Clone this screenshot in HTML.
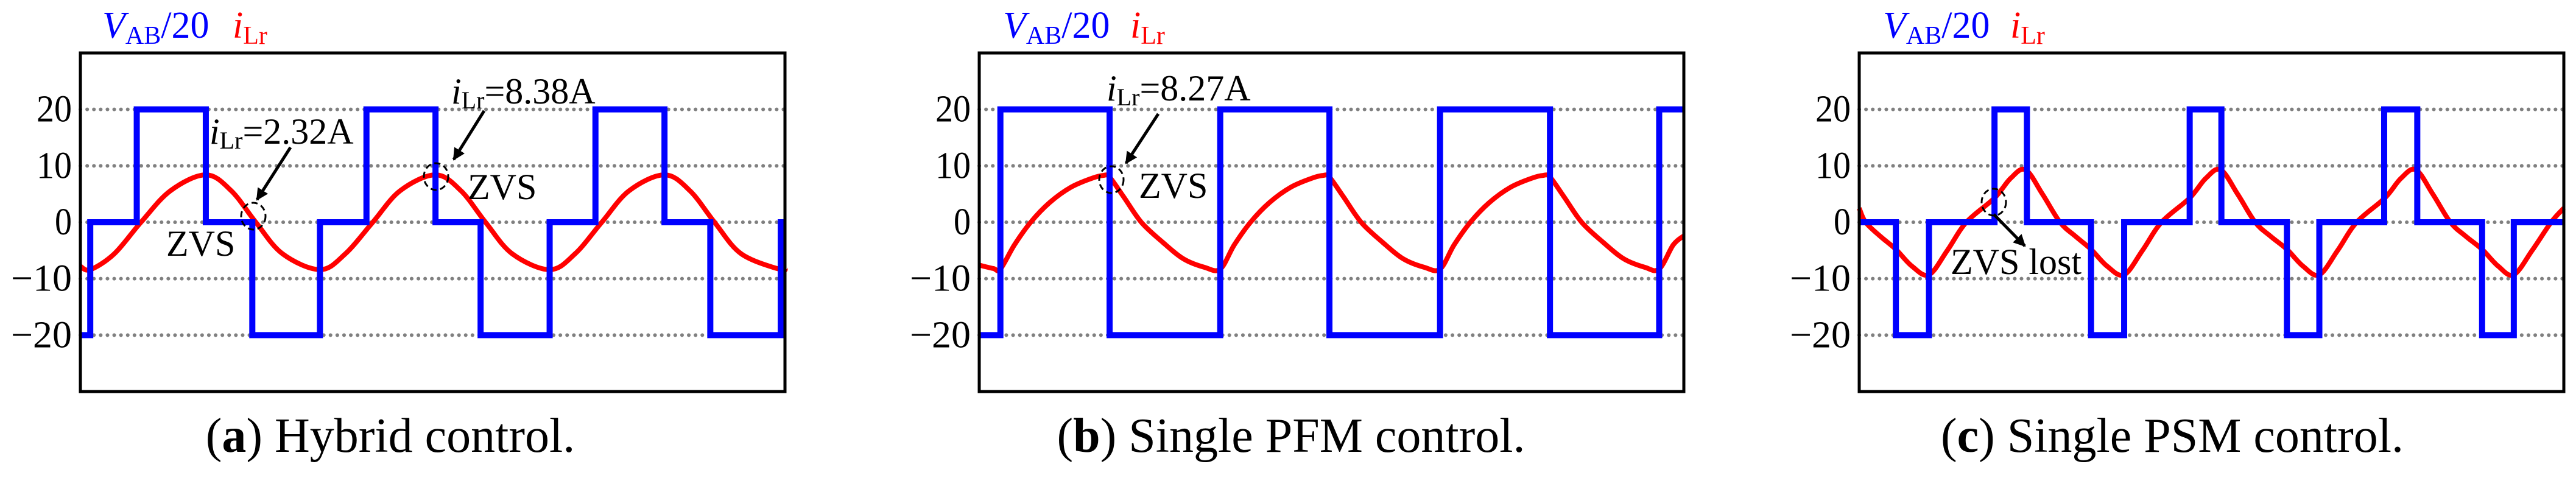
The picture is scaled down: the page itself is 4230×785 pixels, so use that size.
<!DOCTYPE html>
<html><head><meta charset="utf-8"><style>
html,body{margin:0;padding:0;background:#fff;}
svg{display:block;}
svg text{font-family:"Liberation Serif","Times New Roman",serif;}
</style></head><body>
<svg id="fig" width="4230" height="785" viewBox="0 0 4230 785" xmlns="http://www.w3.org/2000/svg" font-family="Liberation Serif, serif"></svg>
<script>
// y ticks (shared)
const yTicks = [20, 10, 0, -10, -20];
const yTickLabels = ["20", "10", "0", "\u221210", "\u221220"];
// Panel (a) hybrid control: V_AB/20 step transitions (time in % of window) and levels
const vA_t = [0, 1.4, 8.0, 17.8, 24.4, 34.0, 40.6, 50.4, 56.8, 66.6, 73.1, 82.9, 89.4, 99.4, 100];
const vA_v = [-20, 0, 20, 0, -20, 0, 20, 0, -20, 0, 20, 0, -20, 0, 0];
const iA_t = [0, 1.4, 4.8, 8.6, 12.8, 17.8, 21.4, 24.9, 28.7, 34.0, 37.6, 41.5, 45.4, 50.4, 54, 57.5, 61.3, 66.6, 70.2, 74, 77.9, 82.9, 86.5, 90, 93.8, 99.4, 100];
const iA_v = [-7.8, -8.4, -5.6, 0, 5.6, 8.4, 5.6, 0, -5.6, -8.4, -5.6, 0, 5.6, 8.4, 5.6, 0, -5.6, -8.4, -5.6, 0, 5.6, 8.4, 5.6, 0, -5.6, -8.4, -8.0];
// Panel (b) single PFM
const vB_t = [0, 3.0, 18.5, 34.2, 49.7, 65.4, 81.0, 96.5, 100];
const vB_v = [-20, 20, -20, 20, -20, 20, -20, 20, 20];
const iB_t = [0, 2, 3.0, 5, 7.3, 10, 13, 16, 17.6, 18.5, 20.5, 23.0, 26, 29, 32, 34.2, 36.2, 38.5, 41.2, 44.2, 47.2, 48.8, 49.7, 51.7, 54.2, 57.2, 60.2, 63.2, 65.4, 67.4, 69.7, 72.4, 75.4, 78.4, 80, 81, 83, 85.5, 88.5, 91.5, 94.5, 96.5, 98.5, 100];
const iB_v = [-7.6, -8.2, -8.3, -4, 0, 3.5, 6.2, 7.8, 8.3, 8.0, 4.5, 0, -3.5, -6.5, -8, -8.3, -4, 0, 3.5, 6.2, 7.8, 8.3, 8.0, 4.5, 0, -3.5, -6.5, -8, -8.3, -4, 0, 3.5, 6.2, 7.8, 8.3, 8.0, 4.5, 0, -3.5, -6.5, -8, -8.3, -4, -2.4];
// Panel (c) single PSM
const vC_t = [0, 5.2, 9.9, 19.2, 23.8, 32.9, 37.6, 46.9, 51.4, 60.7, 65.3, 74.5, 79.2, 88.4, 92.9, 100];
const vC_v = [0, -20, 0, 20, 0, -20, 0, 20, 0, -20, 0, 20, 0, -20, 0, 0];
const iC_t = [0, 0.9, 3, 5.2, 7.5, 9.9, 12.5, 15.2, 19.2, 21.5, 23.6, 26, 28.5, 30.7, 32.9, 35.2, 37.6, 40.2, 42.9, 46.9, 49.2, 51.3, 53.7, 56.2, 58.4, 60.7, 63, 65.3, 67.9, 70.6, 74.6, 76.9, 79, 81.4, 83.9, 86.1, 88.4, 90.7, 92.9, 95.5, 98.2, 100];
const iC_v = [2.5, 0, -2.5, -4.8, -7.8, -9.3, -5, 0, 4.3, 7.8, 9.3, 5, 0, -2.5, -4.8, -7.8, -9.3, -5, 0, 4.3, 7.8, 9.3, 5, 0, -2.5, -4.8, -7.8, -9.3, -5, 0, 4.3, 7.8, 9.3, 5, 0, -2.5, -4.8, -7.8, -9.3, -5, 0, 2.5];

const NS = "http://www.w3.org/2000/svg";
const svg = document.getElementById("fig");
function mk(tag, attrs, parent) {
  const e = document.createElementNS(NS, tag);
  for (const k in attrs) e.setAttribute(k, attrs[k]);
  if (tag === "text") e.setAttribute("font-family", "Liberation Serif, serif");
  (parent || svg).appendChild(e);
  return e;
}
const BOX_TOP = 87, BOX_BOT = 643, BOX_W = 1157;
function yScale(v) { return BOX_TOP + (30 - v) / 60 * (BOX_BOT - BOX_TOP); }

function panel(id, x0, vt, vv, it, iv, caption, bold, capX, legX, iX) {
  const g = mk("g", {});
  
  
  const xs = t => x0 + t / 100 * BOX_W;
  yTicks.forEach((t, k) => {
    const gl = mk("line", {x1: x0, x2: x0 + BOX_W, y1: yScale(t), y2: yScale(t), stroke: "#808080", "stroke-width": 6, "stroke-dasharray": "0.1 11", "stroke-linecap": "round"}, g);
    
    
    const lab = yTickLabels[k];
    const tlLen = lab.length === 1 ? 28 : (lab.length === 2 ? 58 : 100);
    const tl = mk("text", {x: x0 - 14, y: yScale(t) + 20, "text-anchor": "end", "font-size": 62, textLength: tlLen, lengthAdjust: "spacingAndGlyphs"}, g);
    tl.textContent = lab;
    
    
  });
  const pts = it.map((t, k) => [xs(t), yScale(iv[k])]);
  let d = "M" + pts[0][0] + "," + pts[0][1];
  for (let k = 0; k < pts.length - 1; k++) {
    const p0 = pts[Math.max(0, k - 1)], p1 = pts[k], p2 = pts[k + 1], p3 = pts[Math.min(pts.length - 1, k + 2)];
    const c1 = [p1[0] + (p2[0] - p0[0]) / 6, p1[1] + (p2[1] - p0[1]) / 6];
    const c2 = [p2[0] - (p3[0] - p1[0]) / 6, p2[1] - (p3[1] - p1[1]) / 6];
    d += " C" + c1 + " " + c2 + " " + p2;
  }
  const cur = mk("path", {d: d, fill: "none", stroke: "#ff0000", "stroke-width": 8}, g);
  
  
  let dv = "M" + xs(vt[0]) + "," + yScale(vv[0]);
  for (let k = 1; k < vt.length; k++) {
    dv += " L" + xs(vt[k]) + "," + yScale(vv[k - 1]) + " L" + xs(vt[k]) + "," + yScale(vv[k]);
  }
  const vol = mk("path", {d: dv, fill: "none", stroke: "#0000ff", "stroke-width": 10, "stroke-linejoin": "miter"}, g);
  
  
  const bx = mk("rect", {x: x0, y: BOX_TOP, width: BOX_W, height: BOX_BOT - BOX_TOP, fill: "none", stroke: "#000", "stroke-width": 5}, g);
  
  
  const lg = mk("text", {x: legX, y: 62, "font-size": 62, fill: "#0000ff"}, g);
  lg.innerHTML = '<tspan font-style="italic">V</tspan><tspan font-size="42" dy="10">AB</tspan><tspan dy="-10">/20</tspan>';
  
  
  const li = mk("text", {x: iX, y: 62, "font-size": 62, fill: "#ff0000"}, g);
  li.innerHTML = '<tspan font-style="italic">i</tspan><tspan font-size="42" dy="10">Lr</tspan>';
  
  
  const cp = mk("text", {x: capX, y: 742, "font-size": 80, "text-anchor": "middle"}, g);
  cp.innerHTML = '(<tspan font-weight="bold">' + bold + '</tspan>) ' + caption;
  
  
  return g;
}
const gA = panel("a", 132, vA_t, vA_v, iA_t, iA_v, "Hybrid control.", "a", 641, 168, 382);
const gB = panel("b", 1608, vB_t, vB_v, iB_t, iB_v, "Single PFM control.", "b", 2120, 1647, 1856);
const gC = panel("c", 3053, vC_t, vC_v, iC_t, iC_v, "Single PSM control.", "c", 3567, 3092, 3301);

const defs = mk("defs", {});
defs.innerHTML = '<marker id="ah" viewBox="0 0 10 10" refX="9" refY="5" markerWidth="4" markerHeight="4" orient="auto"><path d="M0,0 L10,5 L0,10 z" fill="#000"/></marker>';
function annText(x, y, html, name) {
  const t = mk("text", {x: x, y: y, "font-size": 60});
  t.innerHTML = html;
  
  
}
function arrow(x1, y1, x2, y2, name) {
  const a = mk("line", {x1: x1, y1: y1, x2: x2, y2: y2, stroke: "#000", "stroke-width": 5, "marker-end": "url(#ah)"});
  
  
}
function circ(x, y, name) {
  const c = mk("ellipse", {cx: x, cy: y, rx: 20, ry: 22, fill: "none", stroke: "#000", "stroke-width": 3, "stroke-dasharray": "10 6"});
  
  
}
const IL = '<tspan font-style="italic">i</tspan><tspan font-size="40" dy="8">Lr</tspan><tspan dy="-8">';
annText(344, 236, IL + '=2.32A</tspan>', 'annotation-ilr-232');
arrow(477, 242, 422, 328, 'arrow-232');
circ(416, 355, 'zvs-circle-a1');
annText(273, 420, 'ZVS', 'zvs-label-a1');
annText(741, 170, IL + '=8.38A</tspan>', 'annotation-ilr-838');
arrow(795, 182, 745, 262, 'arrow-838');
circ(716, 290, 'zvs-circle-a2');
annText(768, 327, 'ZVS', 'zvs-label-a2');
annText(1817, 165, IL + '=8.27A</tspan>', 'annotation-ilr-827');
arrow(1902, 187, 1849, 268, 'arrow-827');
circ(1825, 295, 'zvs-circle-b');
annText(1870, 325, 'ZVS', 'zvs-label-b');
circ(3274, 332, 'zvs-lost-circle');
arrow(3274, 352, 3325, 404, 'arrow-zvs-lost');
annText(3203, 450, 'ZVS lost', 'zvs-lost-label');
</script>
</body></html>
